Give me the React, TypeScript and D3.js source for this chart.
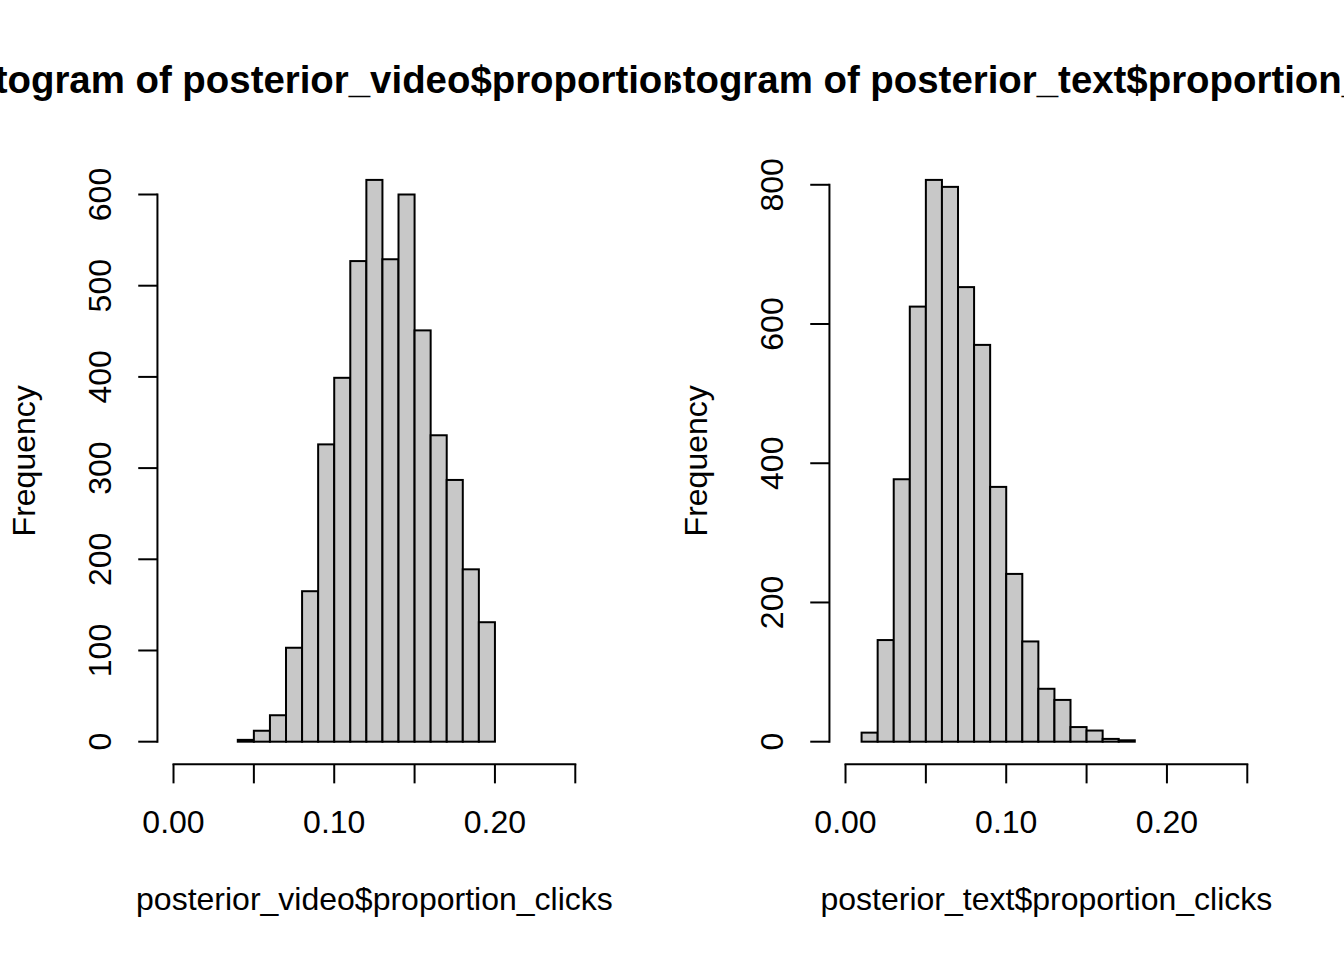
import * as d3 from 'd3'

// Posterior draws binned by hist(): breaks every 0.01
const videoBreaks = [0.04, 0.05, 0.06, 0.07, 0.08, 0.09, 0.10, 0.11, 0.12, 0.13, 0.14, 0.15, 0.16, 0.17, 0.18, 0.19, 0.20]
const videoCounts = [2, 12, 29, 103, 165, 326, 399, 527, 616, 529, 600, 451, 336, 287, 189, 131]

const textBreaks = [0.01, 0.02, 0.03, 0.04, 0.05, 0.06, 0.07, 0.08, 0.09, 0.10, 0.11, 0.12, 0.13, 0.14, 0.15, 0.16, 0.17, 0.18]
const textCounts = [13, 146, 377, 625, 807, 797, 653, 570, 366, 241, 144, 76, 60, 21, 16, 4, 2]

const xTicks = [0, 0.05, 0.10, 0.15, 0.20, 0.25]
const xLabelValues = [0, 0.10, 0.20]
const videoYTicks = [0, 100, 200, 300, 400, 500, 600]
const textYTicks = [0, 200, 400, 600, 800]

// R device geometry: 12pt text at 192 dpi -> 32px, one margin line = 38.4px
const W = 1344
const H = 960
const LINE = 38.4
const FONT = '"Liberation Sans", Arimo, Arial, sans-serif'

interface PanelProps {
  id: string
  ox: number
  breaks: number[]
  counts: number[]
  yTicks: number[]
  title: string
  xlab: string
}

function Panel({ id, ox, breaks, counts, yTicks, title, xlab }: PanelProps) {
  const figW = W / 2
  const left = ox + 4.1 * LINE
  const right = ox + figW - 2.1 * LINE
  const top = 4.1 * LINE
  const bottom = H - 5.1 * LINE

  // xlim = c(0, 0.25), ylim = c(0, max) with R's 4% extension
  const x = d3.scaleLinear().domain([-0.01, 0.26]).range([left, right])
  const ymax = d3.max(counts) ?? 1
  const y = d3.scaleLinear().domain([-0.04 * ymax, 1.04 * ymax]).range([bottom, top])

  const tick = 0.5 * LINE
  const cx = (left + right) / 2
  const cy = (top + bottom) / 2
  const fmt = d3.format('.2f')

  return (
    <g>
      <defs>
        <clipPath id={id}>
          <rect x={ox} y={0} width={figW} height={H} />
        </clipPath>
      </defs>

      {/* bars */}
      {counts.map((c, i) => (
        <rect key={i}
          x={x(breaks[i])} y={y(c)}
          width={x(breaks[i + 1]) - x(breaks[i])}
          height={y(0) - y(c)}
          fill="#C8C8C8" stroke="#000" strokeWidth={2} />
      ))}

      {/* x axis */}
      <line x1={x(xTicks[0])} x2={x(xTicks[xTicks.length - 1])} y1={bottom} y2={bottom}
        stroke="#000" strokeWidth={2} strokeLinecap="square" />
      {xTicks.map(t => (
        <line key={t} x1={x(t)} x2={x(t)} y1={bottom} y2={bottom + tick} stroke="#000" strokeWidth={2} />
      ))}
      {xLabelValues.map(t => (
        <text key={t} x={x(t)} y={bottom + 1.8 * LINE} textAnchor="middle"
          fontSize={32} fontFamily={FONT}>{fmt(t)}</text>
      ))}

      {/* y axis */}
      <line x1={left} x2={left} y1={y(yTicks[0])} y2={y(yTicks[yTicks.length - 1])}
        stroke="#000" strokeWidth={2} strokeLinecap="square" />
      {yTicks.map(t => (
        <g key={t}>
          <line x1={left - tick} x2={left} y1={y(t)} y2={y(t)} stroke="#000" strokeWidth={2} />
          <text transform={`translate(${left - 1.2 * LINE},${y(t)}) rotate(-90)`}
            textAnchor="middle" fontSize={32} fontFamily={FONT}>{t}</text>
        </g>
      ))}

      {/* labels */}
      <text x={cx} y={bottom + 3.8 * LINE} textAnchor="middle" fontSize={32} fontFamily={FONT}>{xlab}</text>
      <text transform={`translate(${left - 3.2 * LINE},${cy}) rotate(-90)`}
        textAnchor="middle" fontSize={32} fontFamily={FONT}>Frequency</text>
      <g clipPath={`url(#${id})`}>
        <text x={cx} y={93} textAnchor="middle" fontSize={38.4} fontWeight="bold" fontFamily={FONT}>{title}</text>
      </g>
    </g>
  )
}

export default function App() {
  return (
    <svg width={W} height={H} viewBox={`0 0 ${W} ${H}`}
      style={{ position: 'absolute', left: 0, top: 0, display: 'block', background: '#fff' }}>
      <rect x={0} y={0} width={W} height={H} fill="#fff" />
      <Panel id="clip-video" ox={0} breaks={videoBreaks} counts={videoCounts} yTicks={videoYTicks}
        title="Histogram of posterior_video$proportion_clicks" xlab="posterior_video$proportion_clicks" />
      <Panel id="clip-text" ox={W / 2} breaks={textBreaks} counts={textCounts} yTicks={textYTicks}
        title="Histogram of posterior_text$proportion_clicks" xlab="posterior_text$proportion_clicks" />
    </svg>
  )
}
